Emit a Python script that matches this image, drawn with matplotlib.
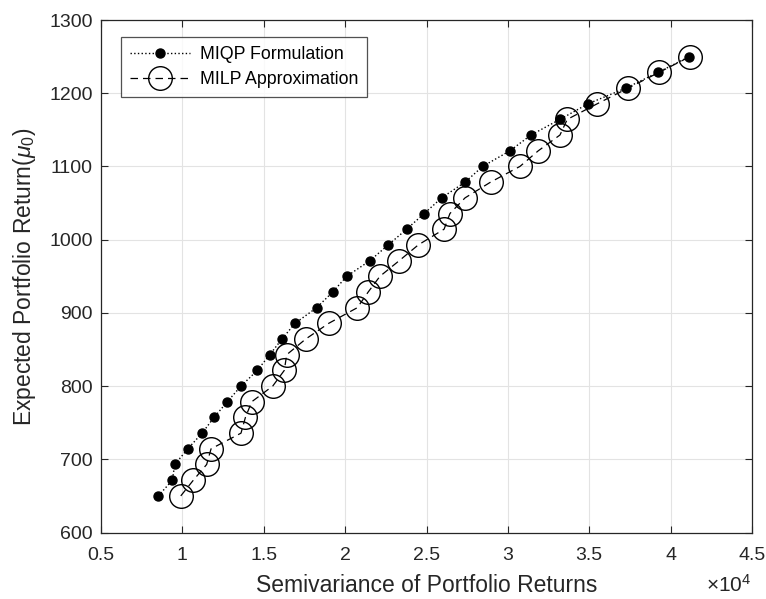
import numpy as np
import matplotlib
matplotlib.use('Agg')
import matplotlib.pyplot as plt

# semivariance (x 1e4) and expected return for both models
miqp_x = [0.852, 0.938, 0.953, 1.033, 1.121, 1.194, 1.276, 1.360, 1.460, 1.537,
          1.612, 1.692, 1.825, 1.924, 2.010, 2.153, 2.265, 2.378, 2.486, 2.593,
          2.737, 2.845, 3.013, 3.142, 3.320, 3.494, 3.726, 3.924, 4.115]
miqp_y = [650, 671.4, 692.9, 714.3, 735.7, 757.1, 778.6, 800, 821.4, 842.9,
          864.3, 885.7, 907.1, 928.6, 950, 971.4, 992.9, 1014.3, 1035.7, 1057.1,
          1078.6, 1100, 1121.4, 1142.9, 1164.3, 1185.7, 1207.1, 1228.6, 1250]

milp_x = [0.990, 1.067, 1.149, 1.176, 1.360, 1.387, 1.426, 1.555, 1.626, 1.641,
          1.758, 1.899, 2.075, 2.142, 2.214, 2.333, 2.450, 2.608, 2.644, 2.737,
          2.894, 3.074, 3.187, 3.320, 3.365, 3.550, 3.740, 3.930, 4.119]
milp_y = miqp_y

xticks = [0.5, 1, 1.5, 2, 2.5, 3, 3.5, 4, 4.5]
xtick_labels = ['0.5', '1', '1.5', '2', '2.5', '3', '3.5', '4', '4.5']
yticks = [600, 700, 800, 900, 1000, 1100, 1200, 1300]

plt.rcParams['font.family'] = ['Liberation Sans', 'DejaVu Sans']
plt.rcParams['mathtext.fontset'] = 'custom'
plt.rcParams['mathtext.it'] = 'Liberation Sans:italic'
plt.rcParams['mathtext.rm'] = 'Liberation Sans'

fig = plt.figure(figsize=(7.66, 5.99), dpi=100)
ax = fig.add_axes([0.1319, 0.111, 0.9817 - 0.1319, 0.9666 - 0.111])

dark = '#262626'

ax.plot(miqp_x, miqp_y, linestyle=':', color='black', linewidth=1.0,
        marker='o', markersize=6.5, markerfacecolor='black', markeredgecolor='black',
        label='MIQP Formulation', zorder=3)
ax.plot(milp_x, milp_y, linestyle=(0, (6, 4)), color='black', linewidth=0.9,
        marker='o', markersize=17, markerfacecolor='none', markeredgecolor='black',
        markeredgewidth=1.0, label='MILP Approximation', zorder=4)

ax.set_xlim(0.5, 4.5)
ax.set_ylim(600, 1300)
ax.set_xticks(xticks)
ax.set_xticklabels(xtick_labels)
ax.set_yticks(yticks)

ax.grid(True, color='#e3e3e3', linewidth=0.8)
ax.set_axisbelow(True)

ax.tick_params(direction='in', top=True, right=True, length=5, width=0.8,
               colors=dark, labelsize=14)
ax.tick_params(axis='x', pad=10.5)
ax.tick_params(axis='y', pad=6)
for s in ax.spines.values():
    s.set_color(dark)
    s.set_linewidth(0.9)

ax.set_xlabel('Semivariance of Portfolio Returns', fontsize=16.5, color=dark, labelpad=7)
ax.set_ylabel(r'Expected Portfolio Return($\mu_0$)', fontsize=16.5, color=dark, labelpad=8)

# 10^4 multiplier, placed like MATLAB's exponent label
ax.text(0.9985, -0.116, r'$\times10^{4}$', transform=ax.transAxes, ha='right', va='baseline',
        fontsize=15, color=dark)

leg = ax.legend(loc='upper left', bbox_to_anchor=(0.0303, 0.966), fontsize=12.8,
                frameon=True, fancybox=False, edgecolor=dark, handlelength=3.4,
                borderpad=0.5, labelspacing=0.45, handletextpad=0.57, borderaxespad=0)
leg.get_frame().set_linewidth(0.9)

fig.savefig('out.png', dpi=100)
